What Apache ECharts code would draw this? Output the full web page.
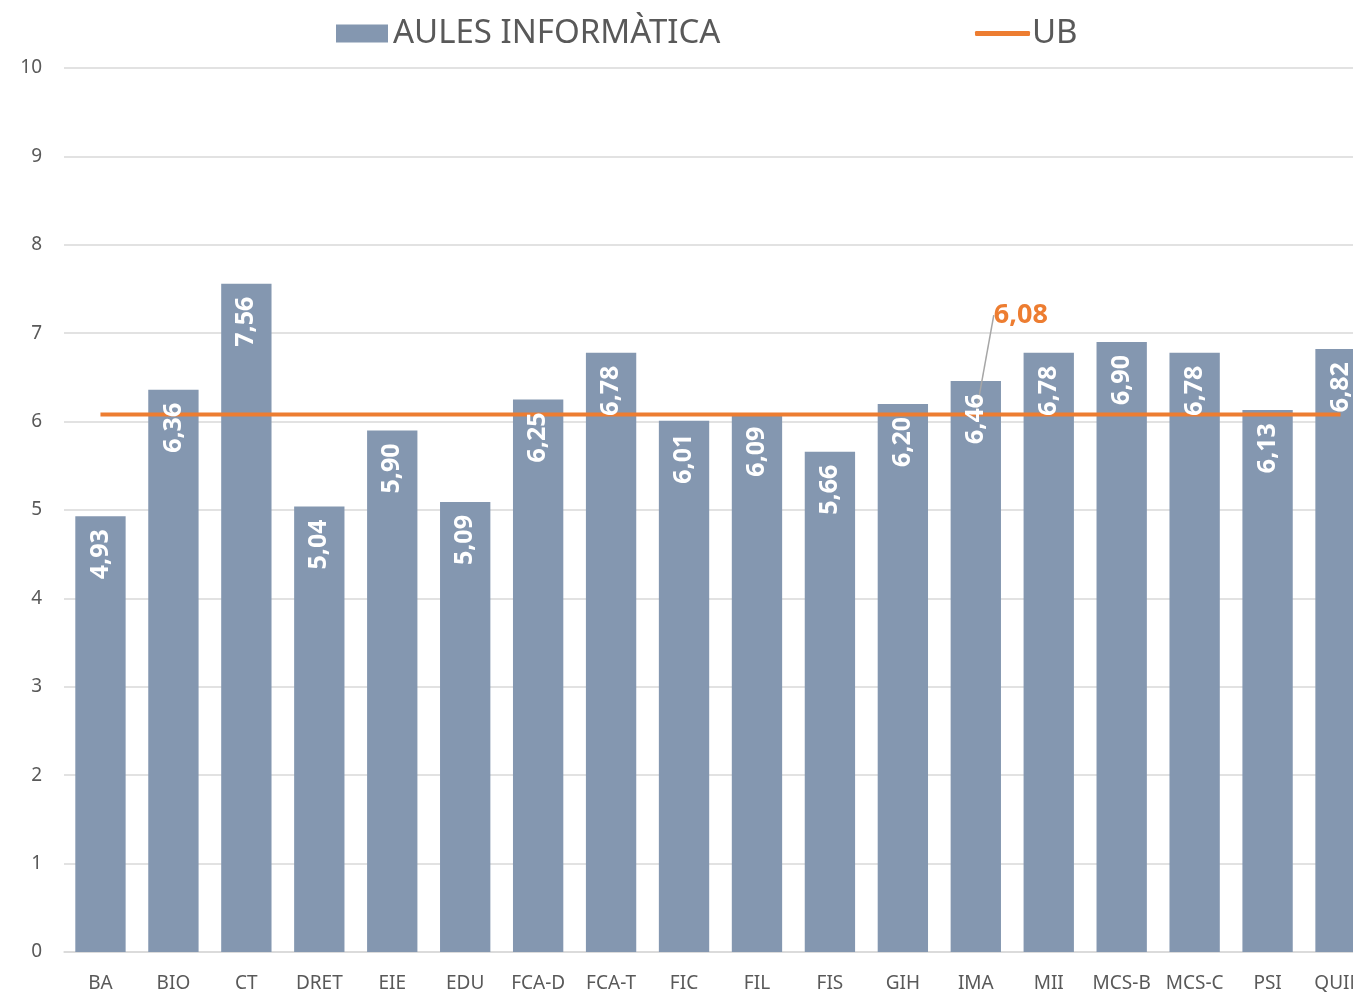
<!DOCTYPE html>
<html>
<head>
<meta charset="utf-8">
<script src="https://cdn.jsdelivr.net/npm/echarts@6/dist/echarts.min.js"></script>
<style>
  html, body { margin: 0; padding: 0; background: #fff; overflow: hidden; }
  #chart { width: 1378px; height: 994px; }
</style>
</head>
<body>
<div id="chart"></div>
<script>
const categories = ['BA', 'BIO', 'CT', 'DRET', 'EIE', 'EDU', 'FCA-D', 'FCA-T', 'FIC', 'FIL', 'FIS', 'GIH', 'IMA', 'MII', 'MCS-B', 'MCS-C', 'PSI', 'QUIM']
const aulesValues = [4.93, 6.36, 7.56, 5.04, 5.90, 5.09, 6.25, 6.78, 6.01, 6.09, 5.66, 6.20, 6.46, 6.78, 6.90, 6.78, 6.13, 6.82]
const ubValue = 6.08
const ubLabelIndex = 12
const ubValues = categories.map(() => ubValue)

const font = 'Noto Sans'
const comma = v => v.toFixed(2).replace('.', ',')

// the chart is a bit wider than the window, so the last bar is cut like in the original
const chart = echarts.init(document.getElementById('chart'))
const option = {
  backgroundColor: '#fff',
  animation: false,
  textStyle: { fontFamily: font },
  legend: [
    {
      data: [{ name: 'AULES INFORMÀTICA', icon: 'rect' }],
      left: 331, top: 12,
      itemWidth: 52, itemHeight: 18, itemGap: 0,
      textStyle: { color: '#595959', fontSize: 33, fontFamily: font, padding: [0, 0, 0, 0] }
    },
    {
      data: [{ name: 'UB', icon: 'roundRect' }],
      left: 970, top: 12,
      itemWidth: 55, itemHeight: 5,
      textStyle: { color: '#595959', fontSize: 33, fontFamily: font, padding: [0, 0, 0, -3] }
    }
  ],
  grid: { left: 64, right: 1, top: 68, bottom: 42 },
  xAxis: {
    type: 'category',
    data: categories,
    axisTick: { show: false },
    axisLine: { lineStyle: { color: '#d9d9d9', width: 1.5 } },
    axisLabel: { color: '#595959', fontSize: 19, margin: 22, interval: 0 }
  },
  yAxis: {
    type: 'value',
    min: 0, max: 10, interval: 1,
    axisLine: { show: false },
    axisTick: { show: false },
    splitLine: { lineStyle: { color: '#d9d9d9', width: 1.5 } },
    axisLabel: { color: '#595959', fontSize: 19, margin: 22 }
  },
  series: [
    {
      name: 'AULES INFORMÀTICA',
      type: 'bar',
      data: aulesValues,
      barCategoryGap: '31%',
      z: 1,
      itemStyle: { color: '#8497B0' }
    },
    {
      name: 'UB',
      type: 'line',
      data: ubValues.map((v, i) => i === ubLabelIndex ? {
        value: v,
        label: {
          show: true, position: 'top', distance: 0,
          formatter: p => comma(p.value),
          color: '#ED7D31', fontWeight: 'bold', fontSize: 27
        },
        labelLine: { show: true, lineStyle: { color: '#a6a6a6', width: 1.5 } }
      } : v),
      symbol: 'circle',
      symbolSize: 0,
      showSymbol: true,
      z: 2,
      lineStyle: { color: '#ED7D31', width: 4 },
      itemStyle: { color: '#ED7D31' },
      labelLayout: { dx: 45, dy: -86 }
    },
    {
      name: 'labels',
      type: 'bar',
      data: aulesValues,
      barCategoryGap: '31%',
      barGap: '-100%',
      z: 3,
      silent: true,
      itemStyle: { color: 'transparent' },
      label: {
        show: true,
        position: 'insideTop',
        rotate: 90,
        align: 'right',
        verticalAlign: 'middle',
        distance: 13,
        color: '#fff',
        fontWeight: 'bold',
        fontSize: 25,
        formatter: p => comma(p.value)
      }
    }
  ]
}
chart.setOption(option)
window.addEventListener('resize', () => chart.resize())
</script>
</body>
</html>
